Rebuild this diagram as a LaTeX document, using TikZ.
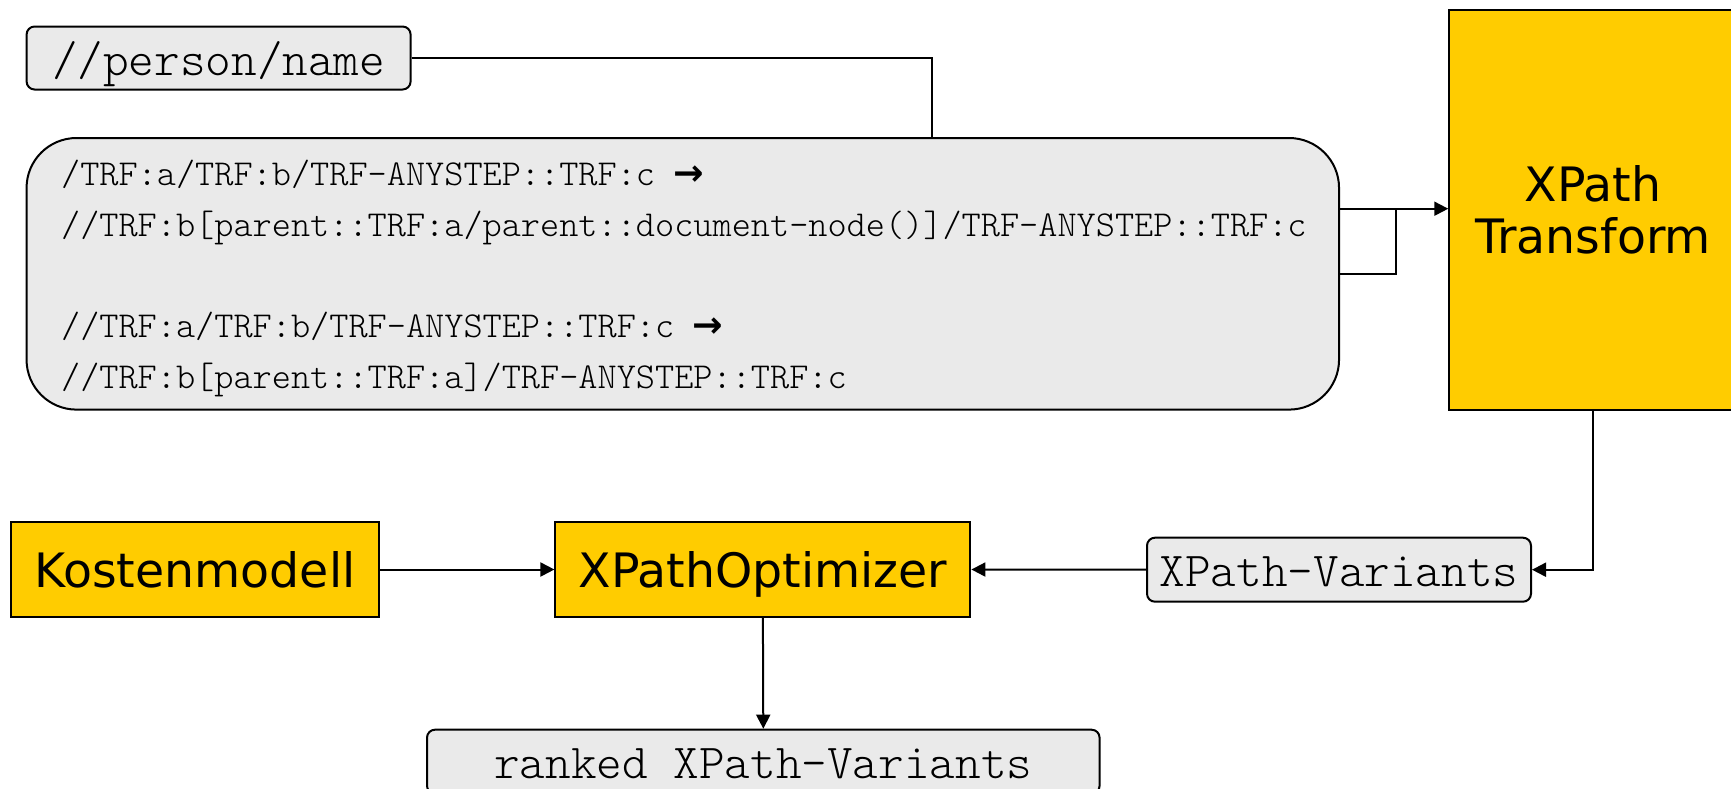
\documentclass[tikz,border=0pt]{standalone}
\usepackage{fontspec}
\setmainfont{DejaVu Sans}
\usetikzlibrary{arrows.meta}
\definecolor{boxgold}{HTML}{FFCC00}
\definecolor{boxgray}{HTML}{EAEAEA}
\newcommand{\maparrow}{\hspace{9pt}{\rmfamily\bfseries →}}
\newcommand{\codefont}{\ttfamily\fontseries{l}\selectfont}
\tikzset{
  codebox/.style={draw, fill=boxgray, rounded corners=4pt, line width=1pt, inner sep=0pt,
    text height=17pt, text depth=0pt, font=\codefont\fontsize{24.4}{27}\selectfont},
  goldbox/.style={draw, fill=boxgold, line width=1pt, inner sep=0pt, align=center,
    font=\fontsize{23.7}{26}\selectfont},
  codeline/.style={anchor=base west, inner sep=0pt, font=\codefont\fontsize{18.25}{21}\selectfont},
  link/.style={line width=1pt},
  arr/.style={link, -{Triangle[length=7pt,width=7pt]}},
}
\begin{document}
\begin{tikzpicture}[x=0.5pt,y=-0.5pt]
\useasboundingbox (0,0) rectangle (1731,788);
\clip (0,0) rectangle (1731,788);

% input query
\node[codebox, minimum width=192pt, minimum height=31.5pt] (person) at (218.6,58) {//person/name};

% transformation rules
\node[codebox, rounded corners=25pt, minimum width=656.25pt, minimum height=135.8pt] (big) at (682.8,273.8) {};
\node[codeline] (r1) at (60.7,185.2) {/TRF:a/TRF:b/TRF-ANYSTEP::TRF:c\maparrow};
\node[codeline] (r2) at (60.7,236) {//TRF:b[parent::TRF:a/parent::document-node()]/TRF-ANYSTEP::TRF:c};
\node[codeline] (r3) at (60.7,337.6) {//TRF:a/TRF:b/TRF-ANYSTEP::TRF:c\maparrow};
\node[codeline] (r4) at (60.7,388.4) {//TRF:b[parent::TRF:a]/TRF-ANYSTEP::TRF:c};

% processing blocks
\node[goldbox, minimum width=143.75pt, minimum height=199.8pt] (transform) at (1593,209.8) {XPath\\Transform};
\node[codebox, minimum width=192pt, minimum height=32pt] (variants) at (1339,569.7) {XPath-Variants};
\node[goldbox, text depth=0pt, minimum width=207.5pt, minimum height=47.5pt] (opt) at (762.9,569.5) {XPathOptimizer};
\node[goldbox, text depth=0pt, minimum width=183.85pt, minimum height=47.5pt] (kosten) at (194.9,569.5) {Kostenmodell};
\node[codebox, minimum width=336.3pt, minimum height=32pt] (ranked) at (763.3,761.7) {ranked XPath-Variants};

% connectors
\coordinate (pj) at (931.8,138);
\draw[link] (person.east) -| (pj);

\coordinate (tj) at (1395.5,208.7);
\draw[arr] (big.east) -| (tj) -- (transform.west |- tj);
\draw[link] (big.east |- tj) -- (tj);

\draw[arr] (transform.south) |- (variants.east);
\draw[arr] (variants.west) -- (opt.east);
\draw[arr] (kosten.east) -- (opt.west);
\draw[arr] (opt.south) -- (ranked.north);
\end{tikzpicture}
\end{document}
